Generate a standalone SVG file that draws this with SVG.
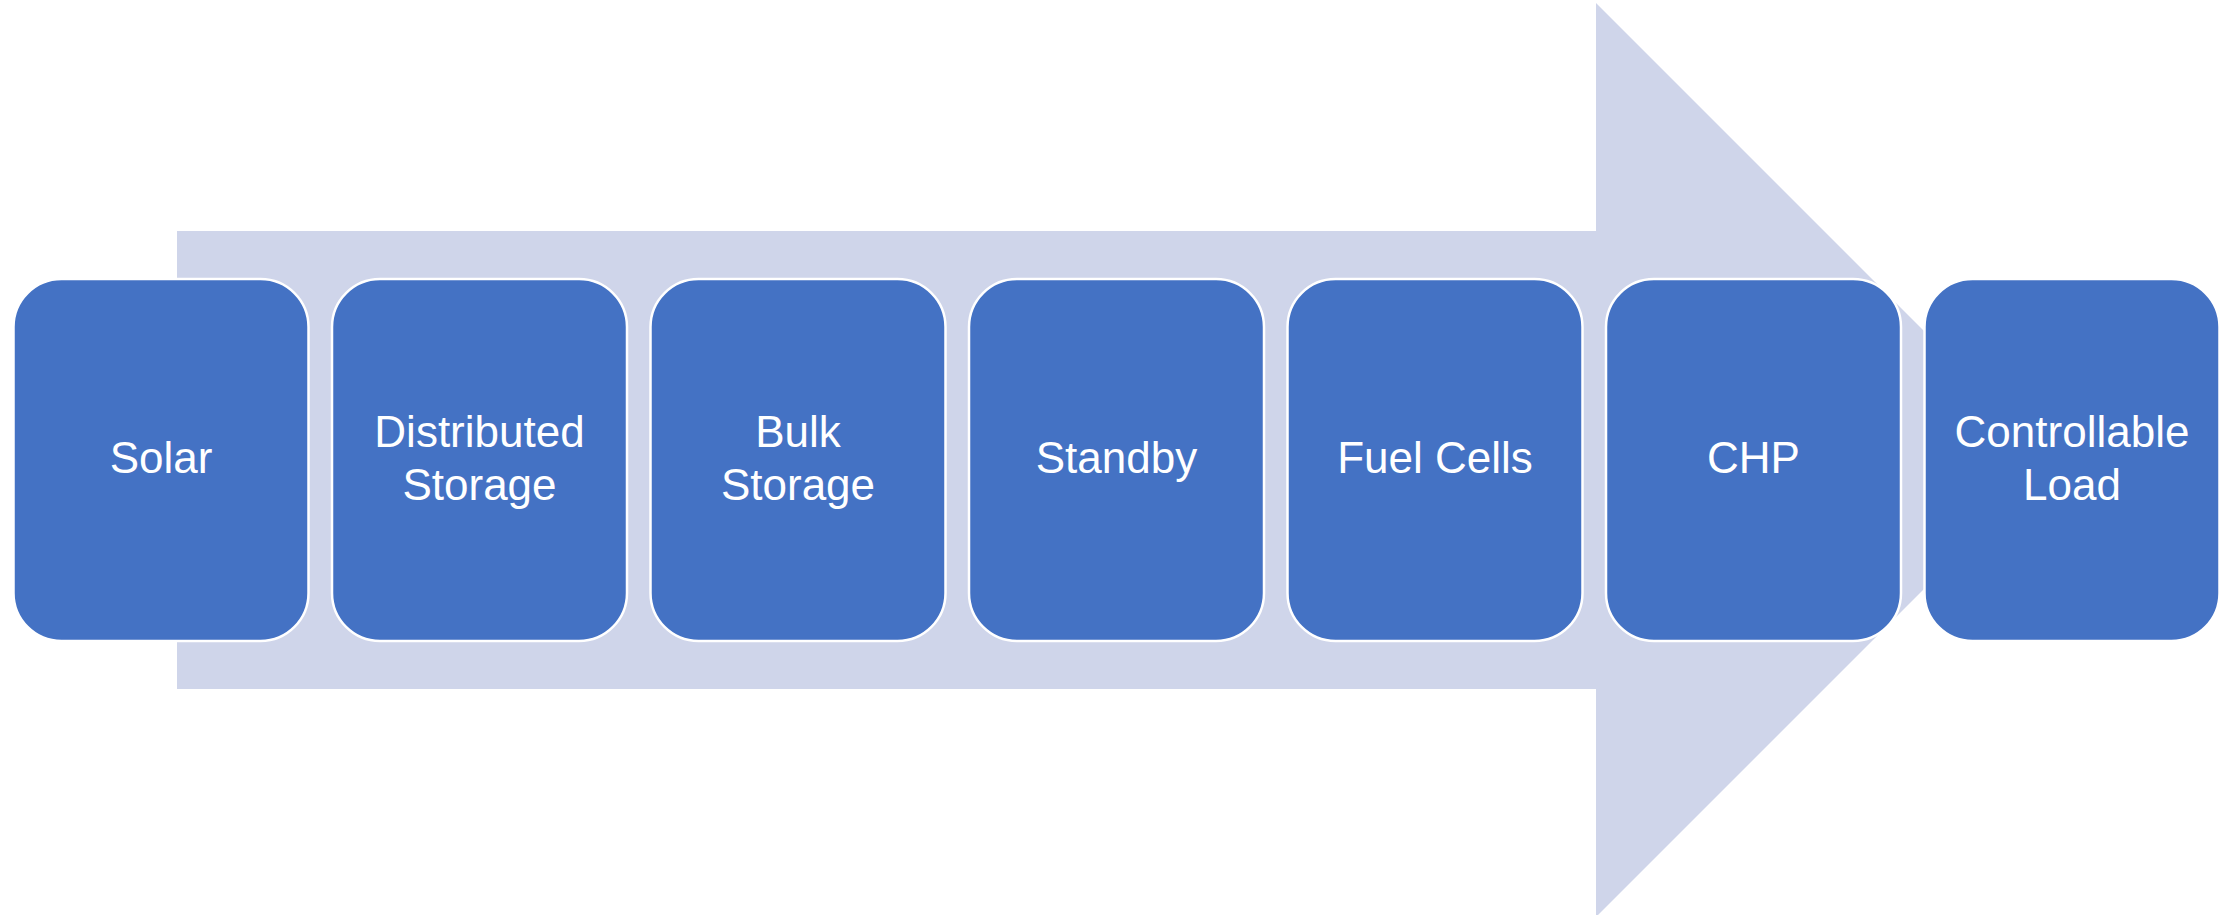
<svg xmlns="http://www.w3.org/2000/svg" width="2234" height="915" viewBox="0 0 2234 915">
<style>
.box{fill:#4472C4;stroke:#FFFFFF;stroke-width:2.5}
.lbl{font-family:"Liberation Sans",Arial,sans-serif;font-size:44px;fill:#FFFFFF;text-anchor:middle}
</style>
<rect x="0" y="0" width="2234" height="915" fill="#FFFFFF"/>
<g id="background-arrow">
<polygon points="177,231 1596,231 1596,3 2053,460 1596,917 1596,689 177,689" fill="#CFD5EA"/>
</g>
<g id="node-solar">
<rect class="box" x="13.5" y="279" width="295" height="362" rx="48" ry="48"/>
<text class="lbl" x="161" y="473">Solar</text>
</g>
<g id="node-distributed-storage">
<rect class="box" x="332" y="279" width="295" height="362" rx="48" ry="48"/>
<text class="lbl" x="479.5" y="447">Distributed</text>
<text class="lbl" x="479.5" y="500">Storage</text>
</g>
<g id="node-bulk-storage">
<rect class="box" x="650.5" y="279" width="295" height="362" rx="48" ry="48"/>
<text class="lbl" x="798" y="447">Bulk</text>
<text class="lbl" x="798" y="500">Storage</text>
</g>
<g id="node-standby">
<rect class="box" x="969" y="279" width="295" height="362" rx="48" ry="48"/>
<text class="lbl" x="1116.5" y="473">Standby</text>
</g>
<g id="node-fuel-cells">
<rect class="box" x="1287.5" y="279" width="295" height="362" rx="48" ry="48"/>
<text class="lbl" x="1435" y="473">Fuel Cells</text>
</g>
<g id="node-chp">
<rect class="box" x="1606" y="279" width="295" height="362" rx="48" ry="48"/>
<text class="lbl" x="1753.5" y="473">CHP</text>
</g>
<g id="node-controllable-load">
<rect class="box" x="1924.5" y="279" width="295" height="362" rx="48" ry="48"/>
<text class="lbl" x="2072" y="447">Controllable</text>
<text class="lbl" x="2072" y="500">Load</text>
</g>
<g id="connectors"/>
</svg>
